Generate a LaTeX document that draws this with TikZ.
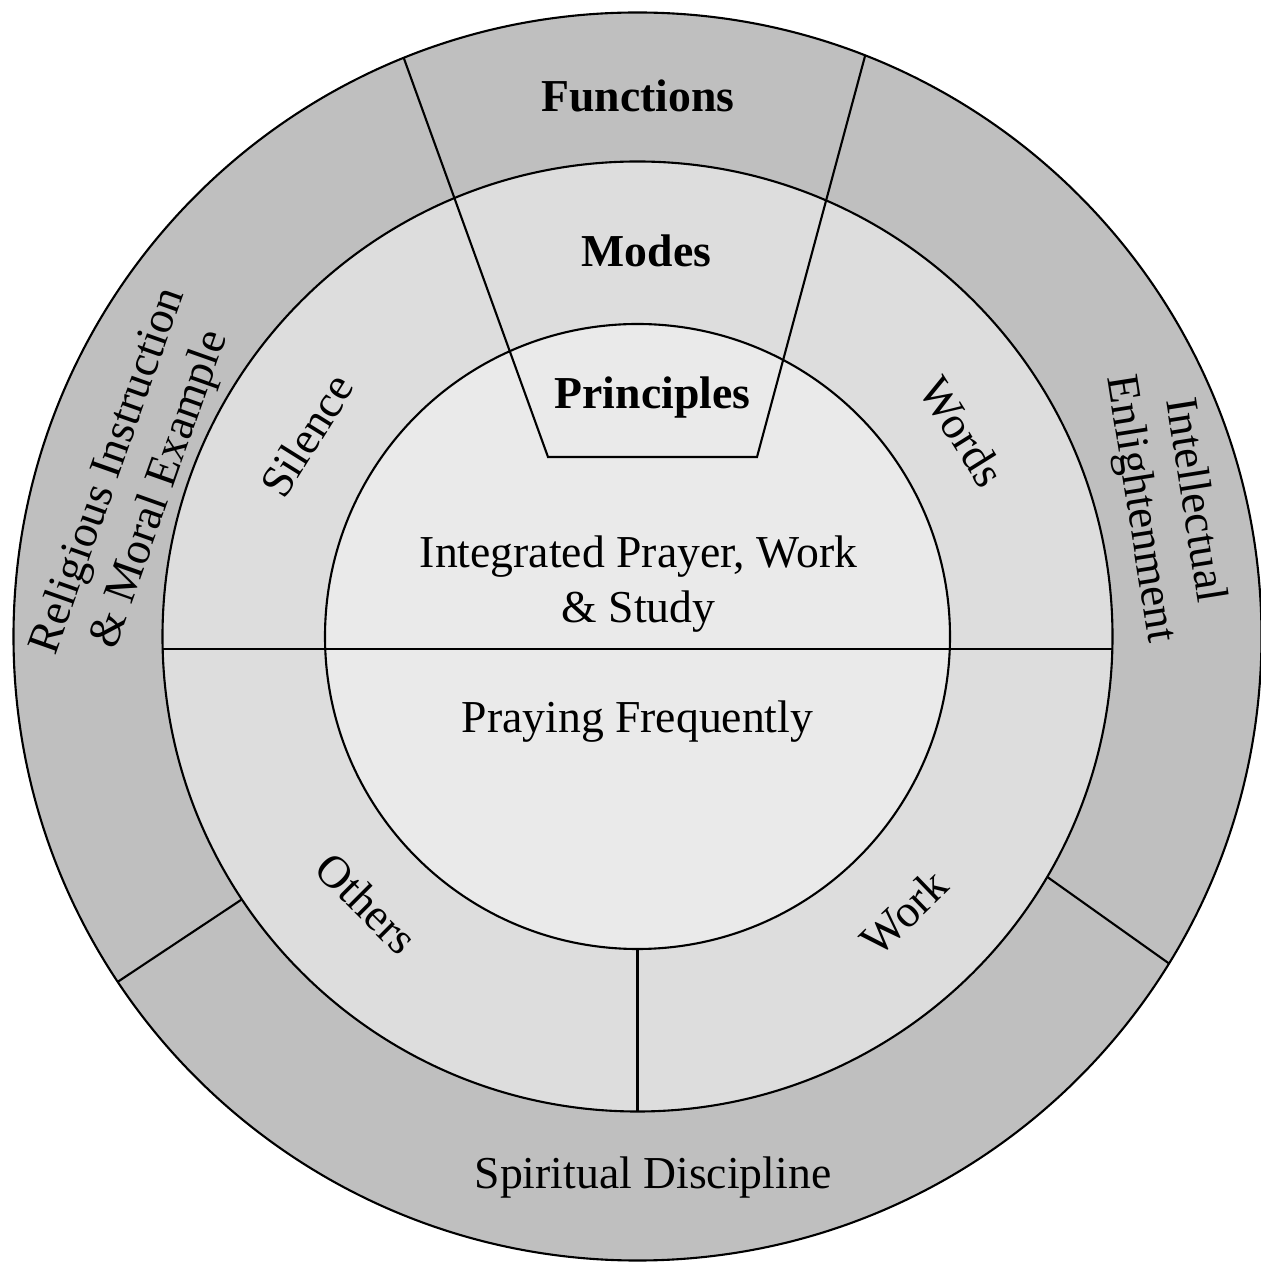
\documentclass[tikz,border=0pt]{standalone}
\usepackage{fontspec}
\setmainfont{Liberation Serif}
\definecolor{ringout}{HTML}{BFBFBF}
\definecolor{ringmid}{HTML}{DDDDDD}
\definecolor{ringin}{HTML}{EAEAEA}

\begin{document}
\begin{tikzpicture}[
    font=\fontsize{13}{15.6}\selectfont,
    ring/.style={draw=black, line width=0.6pt},
    lab/.style={align=center, inner sep=0pt},
    head/.style={lab, font=\fontsize{13}{15.6}\selectfont\bfseries},
]
\useasboundingbox (-6.375,-6.255) rectangle (6.225,6.365);

% three rings, outside in
\filldraw[ring, fill=ringout] (0,0) circle (6.24);
\filldraw[ring, fill=ringmid] (0,0) circle (4.75);
\filldraw[ring, fill=ringin]  (0,0) circle (3.125);

% dividers
\draw[ring] (-4.748,-0.125) -- (4.748,-0.125);
\draw[ring] (0,-3.125) -- (0,-4.75);
\draw[ring] (213.6:4.75) -- (213.6:6.24);
\draw[ring] (-30.4:4.75) -- (-31.6:6.24);
\draw[ring] (112:6.24) -- (-0.895,1.795) -- (1.195,1.795) -- (68.6:6.24);

% headings in the wedge
\node[head, anchor=base] (functions)  at (0.005,5.245) {Functions};
\node[head, anchor=base] (modes)      at (0.09,3.695)  {Modes};
\node[head, anchor=base] (principles) at (0.15,2.275)  {Principles};

% principles
\node[lab] (integrated) at (0.01,0.525) {Integrated Prayer, Work\\ \& Study};
\node[lab, anchor=base] (praying) at (0,-0.965) {Praying Frequently};

% modes
\node[lab, rotate=58]  (silence) at (148.7:3.87) {Silence};
\node[lab, rotate=-58] (words)   at (32.2:3.84)  {Words};
\node[lab, rotate=-45] (others)  at (224.6:3.80) {Others};
\node[lab, rotate=44]  (work)    at (-46:3.84)   {Work};

% functions
\node[lab, rotate=70.5] (religious) at (162.75:5.26) {Religious Instruction\\ \& Moral Example};
\node[lab, rotate=-81]  (intellect) at (14:5.447)    {Intellectual\\ Enlightenment};
\node[lab, anchor=base] (spiritual) at (0.155,-5.515) {Spiritual Discipline};

\end{tikzpicture}
\end{document}
